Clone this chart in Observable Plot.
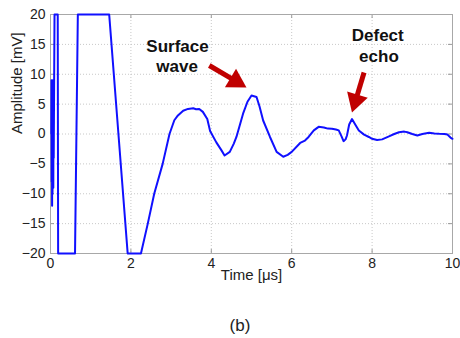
<!DOCTYPE html>
<html>
<head>
<meta charset="utf-8">
<script src="https://cdn.jsdelivr.net/npm/d3@7"></script>
<script src="https://cdn.jsdelivr.net/npm/@observablehq/plot@0.6"></script>
<style>
  body { margin: 0; background: #fff; }
  #chart svg { font-family: "Liberation Sans", Arial, sans-serif; }
  #cap { width: 440px; padding-left: 20px; height: 22px; padding-top: 16px; text-align: center;
         font: 17px "Liberation Sans", Arial, sans-serif; line-height: 20px; color: #222; }
</style>
</head>
<body>
<div id="chart"></div>
<div id="cap">(b)</div>
<script>
// Waveform samples: time [µs], amplitude [mV]
const timeUs = [0.02,0.025,0.03,0.035,0.04,0.045,0.05,0.055,0.06,0.065,0.07,0.075,0.08,
  0.1,0.18,0.19,0.61,0.68,1.46,1.92,2.25,
  2.42,2.58,2.79,2.96,3.08,3.17,3.3,3.42,3.55,3.62,3.7,3.79,3.9,3.97,4.125,4.25,4.33,4.46,4.56,4.625,4.79,4.9,5.0,5.125,5.2,5.29,5.46,5.625,5.79,5.9,6.0,6.21,6.33,6.42,6.55,6.67,6.8,6.9,7.0,7.1,7.17,7.24,7.29,7.34,7.375,7.43,7.5,7.58,7.67,7.8,7.92,8.0,8.125,8.25,8.42,8.55,8.67,8.8,8.875,9.0,9.125,9.25,9.42,9.55,9.67,9.8,9.875,9.95,10];
const ampMv = [0,9,-8,8,-12,7,-10,9,-6,5,-9,6,-4,
  20,20,-20,-20,20,20,-20,-20,
  -15,-10,-5,0,2.3,3.1,3.9,4.2,4.3,4.15,4.2,3.7,2.5,0.5,-1.4,-2.7,-3.6,-3.0,-1.6,-0.5,3.4,5.4,6.45,6.2,4.6,2.26,-0.5,-3.0,-3.8,-3.5,-3.0,-1.5,-1.1,-0.5,0.6,1.2,1.1,0.9,0.87,0.75,0.6,-0.4,-1.2,-0.9,-0.25,1.6,2.5,1.6,0.6,-0.1,-0.5,-0.8,-1.0,-0.9,-0.4,0.0,0.3,0.4,0.3,0.0,-0.25,0.0,0.2,0.1,0.03,0.0,-0.1,-0.6,-0.8];

const xTicks = [0, 2, 4, 6, 8, 10];
const yTicks = [-20, -15, -10, -5, 0, 5, 10, 15, 20];
const xLabel = "Time [\u03bcs]";
const yLabel = "Amplitude [mV]";

// Annotation text lines (data coordinates)
const noteText = ["Surface", "wave", "Defect", "echo"];
const noteX = [3.16, 3.15, 8.14, 8.17];
const noteY = [14.72, 11.29, 16.56, 12.93];

// Arrows: shaft tail -> head centre, head rotation
const arrowX1 = [3.95, 7.8];
const arrowY1 = [11.46, 10.3];
const arrowX2 = [4.61, 7.59];
const arrowY2 = [8.84, 5.59];
const arrowRot = [121, 197];

const wave = timeUs.map((t, i) => ({t, a: ampMv[i]}));
const notes = noteText.map((s, i) => ({s, x: noteX[i], y: noteY[i]}));
const arrows = arrowX1.map((x1, i) => ({x1, y1: arrowY1[i], x2: arrowX2[i], y2: arrowY2[i], r: arrowRot[i]}));

const red = "#c00000";
const chart = Plot.plot({
  width: 460, height: 300,
  marginLeft: 50, marginRight: 8, marginTop: 14, marginBottom: 47,
  style: {fontSize: "14px", fontFamily: "Liberation Sans, Arial, sans-serif", color: "#222"},
  x: {domain: [0, 10]},
  y: {domain: [-20, 20]},
  marks: [
    Plot.gridX(xTicks, {stroke: "#c8c8c8", strokeOpacity: 1, strokeDasharray: "1,2"}),
    Plot.gridY(yTicks, {stroke: "#c8c8c8", strokeOpacity: 1, strokeDasharray: "1,2"}),
    Plot.tickX(xTicks, {x: d => d, insetTop: 235, stroke: "#999"}),
    Plot.tickX(xTicks, {x: d => d, insetBottom: 235, stroke: "#999"}),
    Plot.tickY(yTicks, {y: d => d, insetRight: 398, stroke: "#999"}),
    Plot.tickY(yTicks, {y: d => d, insetLeft: 398, stroke: "#999"}),
    Plot.frame({stroke: "#a8a8a8"}),
    Plot.axisX(xTicks, {tickSize: 0, tickPadding: 5, label: null, fontSize: 14}),
    Plot.axisY(yTicks, {tickSize: 0, tickPadding: 5, label: null, fontSize: 14}),
    Plot.text([xLabel], {frameAnchor: "bottom", dy: 26, fontSize: 15, fill: "#222"}),
    Plot.text([yLabel], {frameAnchor: "left", dx: -33, rotate: -90, fontSize: 15, fill: "#222"}),
    Plot.line(wave, {x: "t", y: "a", stroke: "#1010ff", strokeWidth: 2, strokeLinejoin: "round"}),
    Plot.text(notes, {x: "x", y: "y", text: "s", fontSize: 17, fontWeight: "bold",
      fontFamily: "Liberation Sans, Arial, sans-serif", fill: "#111"}),
    Plot.link(arrows, {x1: "x1", y1: "y1", x2: "x2", y2: "y2", stroke: red, strokeWidth: 5}),
    Plot.dot(arrows, {x: "x2", y: "y2", symbol: "triangle", r: 8, rotate: "r", fill: red, stroke: "none"})
  ]
});
document.getElementById("chart").appendChild(chart);
</script>
</body>
</html>
